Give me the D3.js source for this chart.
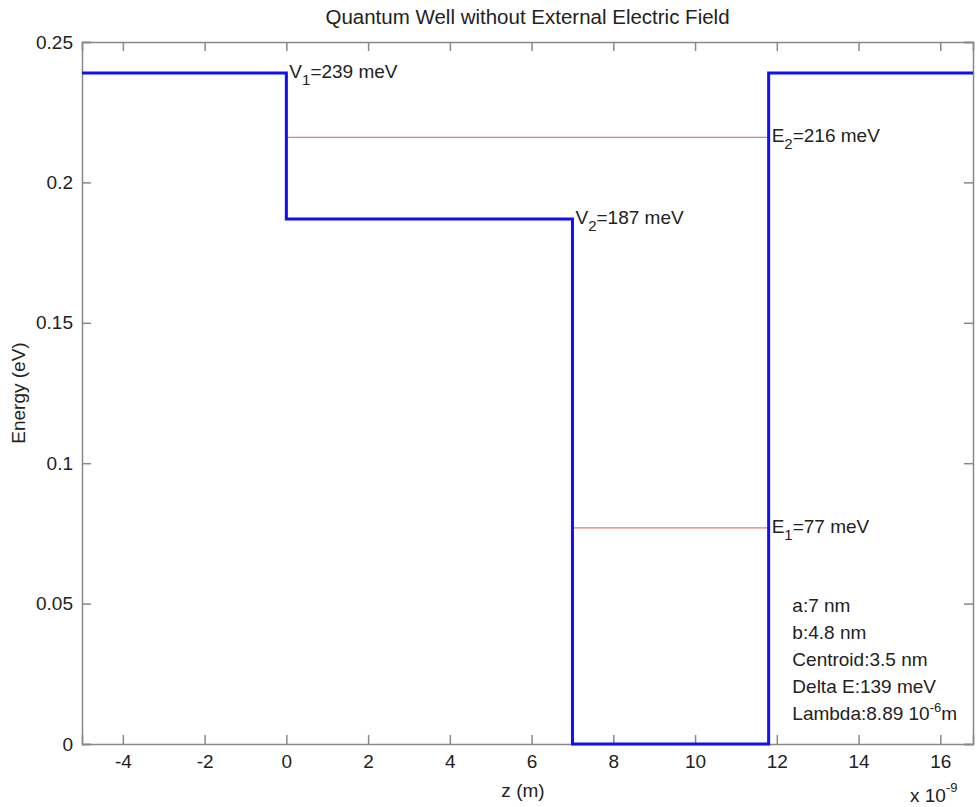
<!DOCTYPE html>
<html><head><meta charset="utf-8">
<script src="https://cdn.jsdelivr.net/npm/d3@7"></script>
<style>
html,body{margin:0;padding:0;background:#fff;}
text{font-family:"Liberation Sans",Arial,sans-serif;fill:#222;}
</style></head>
<body>
<script>
// Data (z in nm, energy in eV)
const potentialZ = [-5, 0, 0, 7, 7, 11.8, 11.8, 16.8];
const potentialE = [0.239, 0.239, 0.187, 0.187, 0, 0, 0.239, 0.239];
const levelNames = ["E1", "E2"];
const levelE = [0.077, 0.216];
const levelStart = [7, 0];
const levelEnd = [11.8, 11.8];
const xTicks = [-4, -2, 0, 2, 4, 6, 8, 10, 12, 14, 16];
const xTickLabels = ["-4", "-2", "0", "2", "4", "6", "8", "10", "12", "14", "16"];
const yTicks = [0, 0.05, 0.1, 0.15, 0.2, 0.25];
const yTickLabels = ["0", "0.05", "0.1", "0.15", "0.2", "0.25"];
const labels = [
  {main:"V", sub:"1", rest:"=239 meV", z:0, e:0.239},
  {main:"E", sub:"2", rest:"=216 meV", z:11.8, e:0.216},
  {main:"V", sub:"2", rest:"=187 meV", z:7, e:0.187},
  {main:"E", sub:"1", rest:"=77 meV", z:11.8, e:0.077}
];
const infoLines = ["a:7 nm", "b:4.8 nm", "Centroid:3.5 nm", "Delta E:139 meV"];
const infoE = [0.0495, 0.0399, 0.0303, 0.0207, 0.0111];

const W = 977, H = 807;
const margin = {left: 82, right: 4, top: 42, bottom: 63};
const svg = d3.select("body").append("svg").attr("width", W).attr("height", H);
const x = d3.scaleLinear().domain([-5, 16.8]).range([margin.left, W - margin.right]);
const y = d3.scaleLinear().domain([0, 0.25]).range([H - margin.bottom, margin.top]);
const axisColor = "#888";
const tl = 9;
const FS = 19;

// axes
const gB = svg.append("g").attr("transform", `translate(0,${y(0)})`)
  .call(d3.axisBottom(x).tickValues(xTicks).tickSize(-tl).tickPadding(11)
    .tickFormat((d, i) => xTickLabels[i]));
const gT = svg.append("g").attr("transform", `translate(0,${y(0.25)})`)
  .call(d3.axisTop(x).tickValues(xTicks).tickSize(-tl).tickFormat(""));
const gL = svg.append("g").attr("transform", `translate(${x(-5)},0)`)
  .call(d3.axisLeft(y).tickValues(yTicks).tickSize(-tl).tickPadding(9)
    .tickFormat((d, i) => yTickLabels[i]));
const gR = svg.append("g").attr("transform", `translate(${x(16.8)},0)`)
  .call(d3.axisRight(y).tickValues(yTicks).tickSize(-tl).tickFormat(""));
[gB, gT, gL, gR].forEach(g => {
  g.select(".domain").attr("stroke", axisColor).attr("stroke-width", 1.5);
  g.selectAll(".tick line").attr("stroke", axisColor).attr("stroke-width", 1.5);
  g.selectAll(".tick text").attr("font-size", FS).attr("fill", "#222")
    .attr("font-family", '"Liberation Sans",Arial,sans-serif');
});

// energy levels
svg.append("g").selectAll("line").data(levelE).join("line")
  .attr("x1", (d, i) => x(levelStart[i])).attr("x2", (d, i) => x(levelEnd[i]))
  .attr("y1", d => y(d)).attr("y2", d => y(d))
  .attr("stroke", "#e87878").attr("stroke-width", 1.3);

// potential profile
const pts = potentialZ.map((z, i) => [z, potentialE[i]]);
svg.append("path").datum(pts)
  .attr("d", d3.line().x(d => x(d[0])).y(d => y(d[1])))
  .attr("fill", "none").attr("stroke", "#1010f0").attr("stroke-width", 3);

// labels
labels.forEach(l => {
  const t = svg.append("text").attr("x", x(l.z) + 3).attr("y", y(l.e) + 5).attr("font-size", FS);
  t.append("tspan").text(l.main);
  t.append("tspan").attr("dy", 7).attr("font-size", 15).text(l.sub);
  t.append("tspan").attr("dy", -7).text(l.rest);
});

// info box
const infoX = x(12.38);
infoLines.forEach((s, i) => {
  svg.append("text").attr("x", infoX).attr("y", y(infoE[i]) + 7).attr("font-size", FS).text(s);
});
const lam = svg.append("text").attr("x", infoX).attr("y", y(infoE[4]) + 7).attr("font-size", FS);
lam.append("tspan").text("Lambda:8.89 10");
lam.append("tspan").attr("dy", -8).attr("font-size", 13).text("-6");
lam.append("tspan").attr("dy", 8).text("m");

// title & axis labels
svg.append("text").attr("x", (x(-5) + x(16.8)) / 2).attr("y", 24).attr("text-anchor", "middle")
  .attr("font-size", 20.5).text("Quantum Well without External Electric Field");
svg.append("text").attr("x", 523).attr("y", 797).attr("text-anchor", "middle")
  .attr("font-size", FS).text("z (m)");
svg.append("text").attr("transform", `translate(25,${(y(0) + y(0.25)) / 2}) rotate(-90)`)
  .attr("text-anchor", "middle").attr("font-size", FS).text("Energy (eV)");
const ex = svg.append("text").attr("x", 910).attr("y", 802).attr("font-size", FS);
ex.append("tspan").text("x 10");
ex.append("tspan").attr("dy", -10).attr("font-size", 13).text("-9");
</script>
</body></html>
